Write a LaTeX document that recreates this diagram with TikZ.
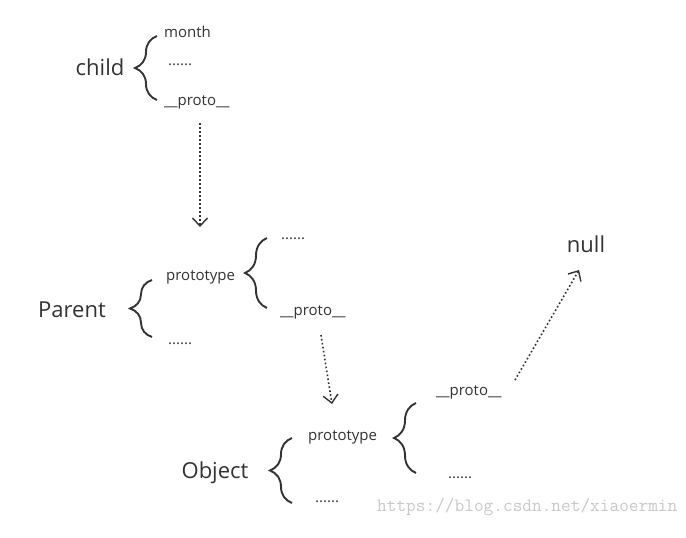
\documentclass[tikz,border=0pt]{standalone}
\usepackage{fontspec}
\setmainfont{Open Sans}
\usetikzlibrary{arrows.meta,decorations.pathreplacing}
\definecolor{ink}{HTML}{333333}
\definecolor{mark}{HTML}{C8C8C8}
\begin{document}
\begin{tikzpicture}[x=1pt,y=-1pt,
  big/.style={font=\fontsize{22}{26}\selectfont, text=ink, inner sep=0, anchor=base},
  small/.style={font=\fontsize{15}{17}\selectfont, text=ink, inner sep=0, anchor=base west},
  bracket/.style={draw=ink, line width=1.9pt, decorate, decoration={brace, amplitude=22pt}},
  ptr/.style={draw=ink, line width=1.6pt, dash pattern=on 1.6pt off 2.4pt,
    -{Straight Barb[length=8pt,width=15pt,line width=1.4pt]}}]
\useasboundingbox (0,0) rectangle (686,538);
\fill[white] (0,0) rectangle (686,538);

% child
\node[big] (child) at (100,75) {child};
\draw[bracket] (157,100) -- (157,36);
\node[small] (month) at (164,37) {month};
\node[small] (cdots) at (168,65) {......};
\node[small] (cproto) at (164,105) {\_\_proto\_\_};
\coordinate (a1s) at (200,123);
\coordinate (a1e) at (200,227);
\draw[ptr] (a1s) -- (a1e);

% Parent
\node[big] (parent) at (72,317) {Parent};
\draw[bracket] (152,337) -- (152,280);
\node[small] (pproto) at (166,280) {prototype};
\node[small] (pdots) at (168,344) {......};
\draw[bracket] (267,308) -- (267,238);
\node[small] (ppdots) at (281,239) {......};
\node[small] (ppproto) at (280,315) {\_\_proto\_\_};
\coordinate (a2s) at (321,335);
\coordinate (a2e) at (332,404);
\draw[ptr] (a2s) -- (a2e);

% Object
\node[big] (object) at (215,478) {Object};
\draw[bracket] (292,503) -- (292,438);
\node[small] (oproto) at (308,440) {prototype};
\node[small] (odots) at (315,502) {......};
\draw[bracket] (416,473) -- (416,403);
\node[small] (ooproto) at (436,395) {\_\_proto\_\_};
\node[small] (oodots) at (448,478) {......};

% null
\node[big] (null) at (586,252) {null};
\coordinate (a3s) at (515,380);
\coordinate (a3e) at (579,270);
\draw[ptr] (a3s) -- (a3e);

% watermark
\node[font=\ttfamily\fontsize{18.8}{21}\selectfont, text=mark, inner sep=0, anchor=west] (wm) at (377,507) {https://blog.csdn.net/xiaoermin};
\end{tikzpicture}
\end{document}
